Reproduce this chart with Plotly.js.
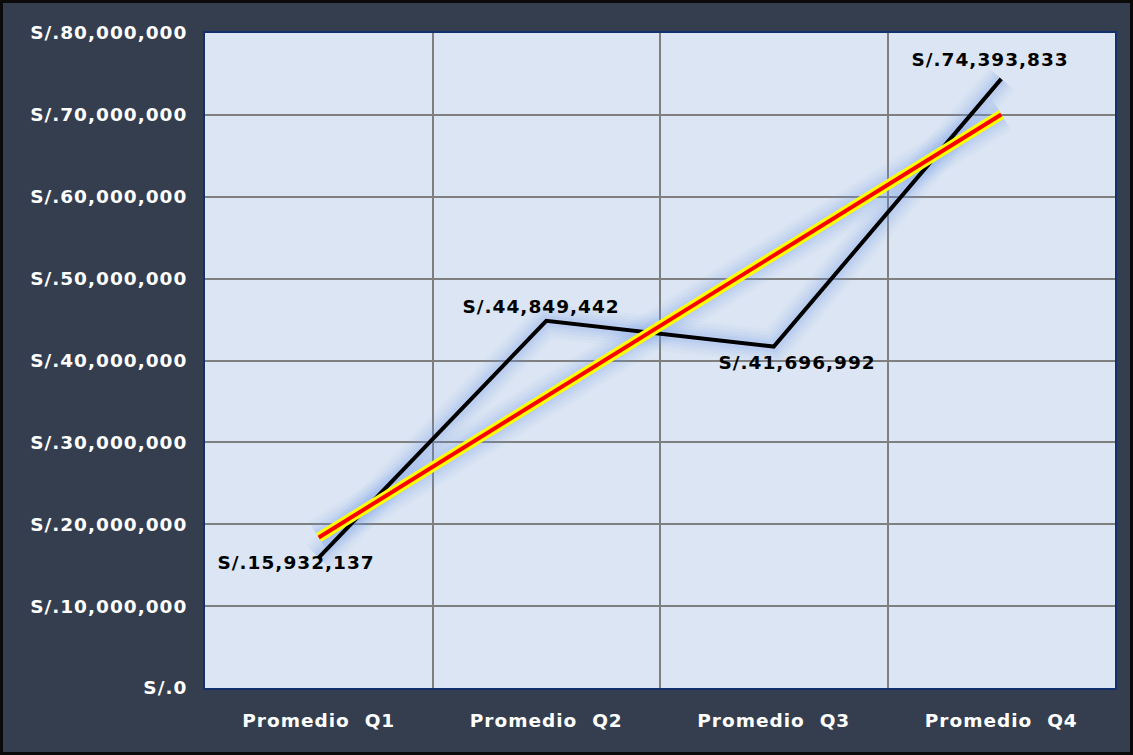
<!DOCTYPE html>
<html><head><meta charset="utf-8">
<script src="https://cdn.plot.ly/plotly-3.0.1.min.js"></script>
<style>
html,body{margin:0;padding:0;background:#000;}
#chart{width:1127px;height:749px;border:3px solid #0a0a0a;}
#chart text{letter-spacing:1px;}
</style></head>
<body><div id="chart"></div>
<script>
const categories = ['Promedio  Q1', 'Promedio  Q2', 'Promedio  Q3', 'Promedio  Q4'];
const values = [15932137, 44849442, 41696992, 74393833];
// label offsets in pixels (style only)
const labelShiftX = [-23, -5, 23, -11];
const labelShiftY = [-5, 14, -16, 19];

// linear trendline (least squares) over category index
const n = values.length;
const xs = values.map((_, i) => i);
const mx = xs.reduce((a, b) => a + b, 0) / n;
const my = values.reduce((a, b) => a + b, 0) / n;
let num = 0, den = 0;
xs.forEach((x, i) => { num += (x - mx) * (values[i] - my); den += (x - mx) * (x - mx); });
const slope = num / den, intercept = my - slope * mx;
const trend = [intercept, intercept + slope * (n - 1)];
const trendCats = [categories[0], categories[n - 1]];

const fmt = v => 'S/.' + v.toLocaleString('en-US');
const font = 'DejaVu Sans, Verdana, sans-serif';
const fsize = 18.5;

const glowLayers = [[34, 0.04], [28, 0.05], [22, 0.06], [16, 0.08], [11, 0.09]];
const glow = (x, y, w, a) => ({x, y, mode: 'lines', line: {color: 'rgba(110,155,240,' + a + ')', width: w}, hoverinfo: 'skip', showlegend: false});

const traces = [];
glowLayers.forEach(([w, a]) => traces.push(glow(categories, values, w, a)));
glowLayers.forEach(([w, a]) => traces.push(glow(trendCats, trend, w + 4, a)));
traces.push(
  {x: categories, y: values, mode: 'lines', line: {color: '#000000', width: 4}, showlegend: false},
  {x: trendCats, y: trend, mode: 'lines', line: {color: '#ffff00', width: 10}, showlegend: false},
  {x: trendCats, y: trend, mode: 'lines', line: {color: '#ff0000', width: 4}, showlegend: false}
);

const annotations = values.map((v, i) => ({
  x: categories[i], y: v, xref: 'x', yref: 'y', text: fmt(v), showarrow: false,
  xanchor: 'center', yanchor: 'middle', xshift: labelShiftX[i], yshift: labelShiftY[i],
  font: {family: font, size: fsize, color: '#000000', weight: 'bold'}
}));

const layout = {
  width: 1127, height: 749,
  paper_bgcolor: '#343e4f', plot_bgcolor: '#dbe5f3',
  margin: {l: 202, r: 15, t: 30, b: 64},
  showlegend: false,
  font: {family: font, color: '#ffffff'},
  annotations,
  xaxis: {
    type: 'category', range: [-0.5, 3.5], tickson: 'boundaries',
    showgrid: true, gridcolor: '#7f7f7f', gridwidth: 2,
    showline: true, mirror: true, linecolor: '#13306e', linewidth: 2,
    ticks: '', ticklabelstandoff: 15,
    tickfont: {family: font, size: fsize, color: '#ffffff', weight: 'bold'},
    zeroline: false, fixedrange: true
  },
  yaxis: {
    range: [0, 80000000], dtick: 10000000, tickprefix: 'S/.', tickformat: ',d',
    showgrid: true, gridcolor: '#7f7f7f', gridwidth: 2,
    showline: true, mirror: true, linecolor: '#13306e', linewidth: 2,
    ticks: 'outside', ticklen: 12, tickcolor: 'rgba(0,0,0,0)',
    tickfont: {family: font, size: fsize, color: '#ffffff', weight: 'bold'},
    zeroline: false, fixedrange: true
  }
};

Plotly.newPlot('chart', traces, layout, {displayModeBar: false, staticPlot: true});
</script></body></html>
